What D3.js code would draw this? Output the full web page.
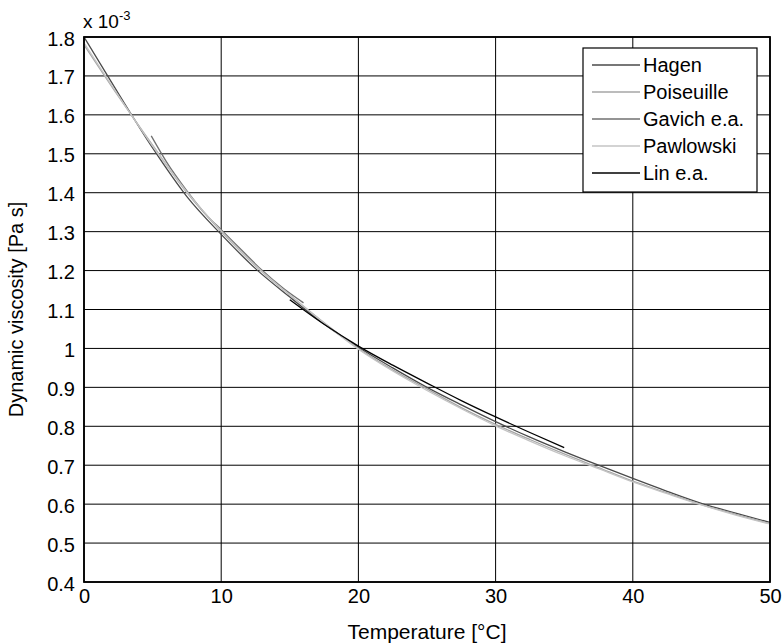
<!DOCTYPE html>
<html>
<head>
<meta charset="utf-8">
<script src="https://cdn.jsdelivr.net/npm/d3@7"></script>
<style>
html,body{margin:0;padding:0;background:#fff;}
svg{display:block;font-family:"Liberation Sans",Arial,Helvetica,sans-serif;}
</style>
</head>
<body>
<svg id="chart" width="784" height="644"></svg>
<script>
// ---- data (viscosity in units of 1e-3 Pa s) ----
const seriesNames = ["Hagen", "Poiseuille", "Gavich e.a.", "Pawlowski", "Lin e.a."];
const seriesColors = ["#4a4a4a", "#a6a6a6", "#707070", "#c4c4c4", "#000000"];

const hagenT = [0, 2.5, 5, 7.5, 10, 12.5, 15, 17.5, 20, 22.5, 25, 27.5, 30, 32.5, 35, 37.5, 40, 42.5, 45, 47.5, 50];
const hagenV = [1.80, 1.655, 1.515, 1.39, 1.293, 1.205, 1.132, 1.063, 1.003, 0.95, 0.9, 0.855, 0.812, 0.772, 0.735, 0.70, 0.666, 0.633, 0.602, 0.577, 0.553];

const poiseuilleT = [0, 2.5, 5, 7.5, 10, 12.5, 15, 17.5, 20, 22.5, 25, 27.5, 30, 32.5, 35, 37.5, 40, 42.5, 45, 47.5, 50];
const poiseuilleV = [1.78, 1.648, 1.522, 1.40, 1.30, 1.212, 1.137, 1.066, 1.0, 0.945, 0.896, 0.848, 0.805, 0.766, 0.729, 0.694, 0.659, 0.629, 0.599, 0.574, 0.550];

const gavichT = [4.9, 6, 7.5, 9, 10, 11.5, 13, 14.5, 16];
const gavichV = [1.546, 1.48, 1.405, 1.34, 1.305, 1.252, 1.2, 1.155, 1.117];

const pawlowskiT = [0, 2.5, 5, 7.5, 10, 12.5, 15, 17.5, 20, 22.5, 25, 27.5, 30, 32.5, 35, 37.5, 40, 42.5, 45, 47.5, 50];
const pawlowskiV = [1.785, 1.65, 1.52, 1.402, 1.302, 1.213, 1.137, 1.065, 0.998, 0.942, 0.892, 0.845, 0.801, 0.762, 0.725, 0.691, 0.657, 0.627, 0.598, 0.572, 0.549];

const linT = [15, 17.5, 20, 22.5, 25, 27.5, 30, 32.5, 35];
const linV = [1.125, 1.062, 1.006, 0.957, 0.911, 0.866, 0.824, 0.784, 0.745];

const xTicks = [0, 10, 20, 30, 40, 50];
const yTicks = [0.4, 0.5, 0.6, 0.7, 0.8, 0.9, 1.0, 1.1, 1.2, 1.3, 1.4, 1.5, 1.6, 1.7, 1.8];

const series = [
  {name: seriesNames[0], color: seriesColors[0], t: hagenT, v: hagenV},
  {name: seriesNames[1], color: seriesColors[1], t: poiseuilleT, v: poiseuilleV},
  {name: seriesNames[2], color: seriesColors[2], t: gavichT, v: gavichV},
  {name: seriesNames[3], color: seriesColors[3], t: pawlowskiT, v: pawlowskiV},
  {name: seriesNames[4], color: seriesColors[4], t: linT, v: linV}
];

// ---- layout ----
const L = 84, R = 770, T = 37, B = 582;
const FS = 20;
const svg = d3.select("#chart");
const x = d3.scaleLinear().domain([0, 50]).range([L, R]);
const y = d3.scaleLinear().domain([0.4, 1.8]).range([B, T]);

// grid
const g = svg.append("g");
g.selectAll("line.vg").data(xTicks).enter().append("line")
  .attr("x1", d => x(d)).attr("x2", d => x(d)).attr("y1", T).attr("y2", B)
  .attr("stroke", "#000").attr("stroke-width", 1);
g.selectAll("line.hg").data(yTicks).enter().append("line")
  .attr("y1", d => y(d)).attr("y2", d => y(d)).attr("x1", L).attr("x2", R)
  .attr("stroke", "#000").attr("stroke-width", 1);

// curves
svg.append("clipPath").attr("id", "clip").append("rect")
  .attr("x", L).attr("y", T).attr("width", R - L).attr("height", B - T);
const line = d3.line().x(d => x(d[0])).y(d => y(d[1])).curve(d3.curveMonotoneX);
const drawOrder = [0, 2, 1, 3, 4];
drawOrder.forEach(i => {
  const s = series[i];
  svg.append("path")
    .datum(s.t.map((t, k) => [t, s.v[k]]))
    .attr("d", line)
    .attr("fill", "none")
    .attr("stroke", s.color)
    .attr("stroke-width", 1.3)
    .attr("clip-path", "url(#clip)");
});

// frame
svg.append("rect").attr("x", L).attr("y", T).attr("width", R - L).attr("height", B - T)
  .attr("fill", "none").attr("stroke", "#000").attr("stroke-width", 1.8);

// axes
const xAxis = d3.axisBottom(x).tickValues(xTicks).tickSize(0).tickPadding(7).tickFormat(d3.format("d"));
const yAxis = d3.axisLeft(y).tickValues(yTicks).tickSize(0).tickPadding(9)
  .tickFormat(d => (Math.abs(d - 1) < 1e-9 ? "1" : d3.format(".1f")(d)));
const xa = svg.append("g").attr("transform", `translate(0,${B})`).call(xAxis);
const ya = svg.append("g").attr("transform", `translate(${L},0)`).call(yAxis);
[xa, ya].forEach(a => {
  a.select(".domain").remove();
  a.selectAll("text").attr("font-size", FS).attr("fill", "#000")
    .attr("font-family", "'Liberation Sans',Arial,sans-serif");
});
ya.selectAll("text").attr("dy", "0.4em");

// exponent label
const ex = svg.append("text").attr("x", L - 1).attr("y", 28).attr("font-size", FS - 1).attr("fill", "#000");
ex.append("tspan").text("x 10");
ex.append("tspan").attr("font-size", 13).attr("dy", -8).text("-3");

// axis titles
svg.append("text").attr("x", (L + R) / 2).attr("y", 639).attr("text-anchor", "middle")
  .attr("font-size", 21).attr("fill", "#000").text("Temperature [°C]");
svg.append("text").attr("transform", `translate(23,${(T + B) / 2}) rotate(-90)`)
  .attr("text-anchor", "middle").attr("font-size", FS).attr("fill", "#000")
  .text("Dynamic viscosity [Pa s]");

// legend
const lg = svg.append("g");
lg.append("rect").attr("x", 583).attr("y", 48).attr("width", 174).attr("height", 144)
  .attr("fill", "#fff").attr("stroke", "#000").attr("stroke-width", 1.2);
series.forEach((s, i) => {
  const yy = 65 + i * 27;
  lg.append("line").attr("x1", 592).attr("x2", 640).attr("y1", yy).attr("y2", yy)
    .attr("stroke", s.color).attr("stroke-width", 1.3);
  lg.append("text").attr("x", 643).attr("y", yy).attr("dy", "0.35em")
    .attr("font-size", FS).attr("fill", "#000").text(s.name);
});
</script>
</body>
</html>
